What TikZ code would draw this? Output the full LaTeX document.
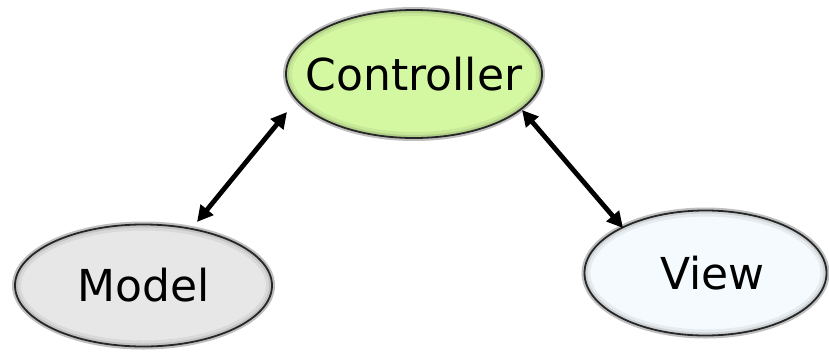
\documentclass[tikz,border=0pt]{standalone}
\usepackage{fontspec}
\setmainfont{DejaVu Sans}
\usetikzlibrary{shapes.geometric,arrows.meta,calc}
\definecolor{ctrlfill}{HTML}{D4F8A2}
\definecolor{modelfill}{HTML}{E7E7E7}
\definecolor{viewfill}{HTML}{F4FAFD}
\definecolor{rim}{HTML}{262626}
\tikzset{
  bubble/.style n args={3}{ellipse, inner sep=0pt, outer sep=0pt,
    minimum width=#1, minimum height=#2, fill=#3, draw=rim, line width=1.8pt,
    text height=32pt, text depth=0pt,
    font=\fontsize{44}{50}\selectfont,
    path picture={
      \draw[black, opacity=0.06, line width=12pt] (path picture bounding box.center) ellipse [x radius=#1/2, y radius=#2/2];
      \draw[black, opacity=0.10, line width=6pt] (path picture bounding box.center) ellipse [x radius=#1/2, y radius=#2/2];
    }},
  halo/.style={draw=black, opacity=0.25, line width=4pt},
  conn/.style={{Triangle[length=16pt,width=16pt]}-{Triangle[length=16pt,width=16pt]}, line width=4.8pt, black}
}
\begin{document}
\begin{tikzpicture}[x=1pt,y=-1pt]
\useasboundingbox (0,0) rectangle (829,351);
\fill[white] (0,0) rectangle (829,351);
% halos
\draw[halo] (414,74) ellipse [x radius=129, y radius=65];
\draw[halo] (143.5,285.5) ellipse [x radius=129.5, y radius=62];
\draw[halo] (705.5,273) ellipse [x radius=122, y radius=63.5];
\node[bubble={256pt}{128pt}{ctrlfill}] (ctrl) at (414,74) {\makebox[0pt]{Controller}};
\node[bubble={257pt}{122pt}{modelfill}] (model) at (143.5,285.5) {\makebox[0pt]{Model}};
\node[bubble={242pt}{125pt}{viewfill}] (view) at (705.5,273) {\makebox[0pt]{\hspace*{14pt}View}};
\coordinate (m1) at ($(model.center)+(53.5,-63.5)$);
\coordinate (c1) at ($(ctrl.center)+(-127,38)$);
\coordinate (c2) at ($(ctrl.center)+(108,36)$);
\coordinate (v1) at ($(view.center)+(-82.5,-45)$);
\draw[conn] (m1) -- (c1);
\draw[conn] (c2) -- (v1);
\end{tikzpicture}
\end{document}
